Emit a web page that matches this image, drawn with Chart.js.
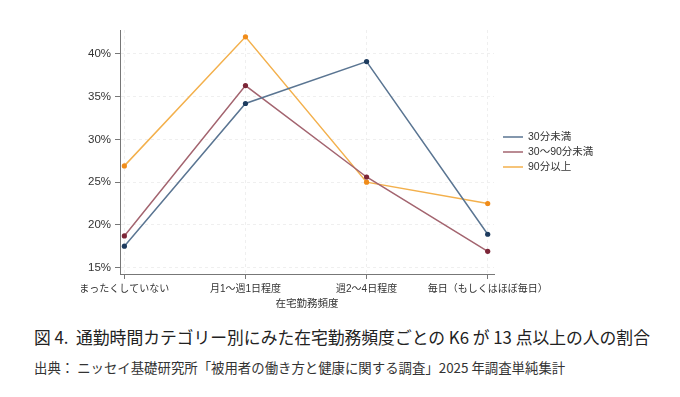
<!DOCTYPE html>
<html>
<head>
<meta charset="utf-8">
<script src="https://cdn.jsdelivr.net/npm/chart.js@4/dist/chart.umd.min.js"></script>
<style>
  body { margin: 0; background: #fff; }
  #wrap { position: relative; width: 680px; height: 397px; }
  #chartBox { position: absolute; left: 0; top: 0; width: 680px; height: 310px; }
  .cap { position: absolute; left: 34px; font-family: 'Noto Sans CJK JP', sans-serif; color: #222; white-space: nowrap; }
  #title { top: 325px; font-size: 16.8px; }
  #source { top: 357px; font-size: 13.4px; color: #333; }
</style>
</head>
<body>
<div id="wrap">
  <div id="chartBox"><canvas id="myChart" width="680" height="310"></canvas></div>
  <div id="title" class="cap">図 4.&nbsp; 通勤時間カテゴリー別にみた在宅勤務頻度ごとの K6 が 13 点以上の人の割合</div>
  <div id="source" class="cap">出典： ニッセイ基礎研究所「被用者の働き方と健康に関する調査」2025 年調査単純集計</div>
</div>
<script>
const categories = ['まったくしていない', '月1～週1日程度', '週2～4日程度', '毎日（もしくはほぼ毎日）'];
const under30 = [17.5, 34.2, 39.1, 18.9];
const from30to90 = [18.7, 36.3, 25.6, 16.9];
const over90 = [26.9, 42.0, 25.0, 22.5];
const seriesNames = ['30分未満', '30～90分未満', '90分以上'];
const yTicks = [15, 20, 25, 30, 35, 40];

const fontFamily = "'Liberation Sans', 'Noto Sans CJK JP', sans-serif";

function toPoints(values) {
    return values.map((v, i) => ({ x: i, y: v }));
}

// legend drawn beside the plot, lines + labels
const sideLegend = {
    id: 'sideLegend',
    afterDraw(chart) {
        const ctx = chart.ctx;
        const area = chart.chartArea;
        const x0 = area.right + 9;
        const yMid = (area.top + area.bottom) / 2;
        ctx.save();
        ctx.font = '10.5px ' + fontFamily;
        ctx.textBaseline = 'middle';
        chart.data.datasets.forEach((ds, i) => {
            const y = yMid - 15 + i * 15;
            ctx.strokeStyle = ds.borderColor;
            ctx.lineWidth = 1.5;
            ctx.beginPath();
            ctx.moveTo(x0, y);
            ctx.lineTo(x0 + 20, y);
            ctx.stroke();
            ctx.fillStyle = '#333';
            ctx.fillText(ds.label, x0 + 25, y);
        });
        ctx.restore();
    }
};

const ctx = document.getElementById('myChart').getContext('2d');
const myChart = new Chart(ctx, {
    type: 'line',
    data: {
        datasets: [{
            label: seriesNames[0],
            data: toPoints(under30),
            borderColor: '#5a7592',
            pointBackgroundColor: '#1d3b5e',
            pointBorderColor: '#1d3b5e'
        }, {
            label: seriesNames[1],
            data: toPoints(from30to90),
            borderColor: '#a3646f',
            pointBackgroundColor: '#7c2637',
            pointBorderColor: '#7c2637'
        }, {
            label: seriesNames[2],
            data: toPoints(over90),
            borderColor: '#f3b04c',
            pointBackgroundColor: '#f08c1a',
            pointBorderColor: '#f08c1a'
        }]
    },
    options: {
        responsive: false,
        animation: false,
        elements: {
            line: { borderWidth: 1.5, tension: 0 },
            point: { radius: 2.6, borderWidth: 0 }
        },
        layout: { padding: { top: 30, right: 186, left: 0, bottom: 0 } },
        plugins: {
            legend: { display: false },
            tooltip: { enabled: false }
        },
        scales: {
            x: {
                type: 'linear',
                min: -0.036,
                max: 3.052,
                afterBuildTicks: (scale) => { scale.ticks = categories.map((_, i) => ({ value: i })); },
                afterFit: (scale) => { scale.height = 36; },
                ticks: {
                    autoSkip: false,
                    maxRotation: 0,
                    padding: 4,
                    color: '#333',
                    font: { size: 10, family: fontFamily },
                    callback: (v) => categories[v]
                },
                grid: { color: '#efefef', tickColor: '#777', tickLength: 5, tickBorderDash: [] },
                border: { color: '#777', width: 1, dash: [3, 3] },
                title: {
                    display: true,
                    text: '在宅勤務頻度',
                    color: '#333',
                    padding: 0,
                    font: { size: 10.5, family: fontFamily }
                }
            },
            y: {
                min: 14.25,
                max: 42.8,
                afterBuildTicks: (scale) => { scale.ticks = yTicks.map(v => ({ value: v })); },
                afterFit: (scale) => { scale.width = 120; },
                ticks: {
                    padding: 4,
                    color: '#333',
                    font: { size: 11.5, family: fontFamily },
                    callback: (v) => v + '%'
                },
                grid: { color: '#efefef', tickColor: '#777', tickLength: 5, tickBorderDash: [] },
                border: { color: '#777', width: 1, dash: [3, 3] }
            }
        }
    },
    plugins: [sideLegend]
});
</script>
</body>
</html>
